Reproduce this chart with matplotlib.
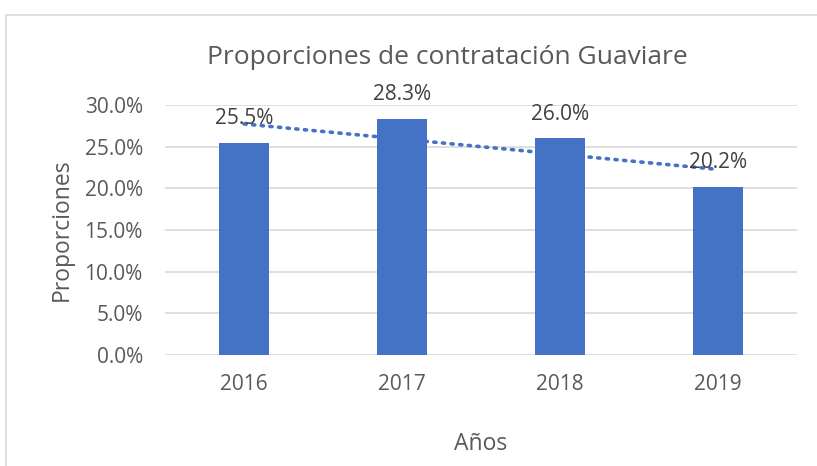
import numpy as np
import matplotlib.pyplot as plt
from matplotlib.patches import Rectangle
from matplotlib.ticker import FuncFormatter

years = ["2016", "2017", "2018", "2019"]
props = [0.255, 0.283, 0.260, 0.202]
yticks = [0.0, 0.05, 0.10, 0.15, 0.20, 0.25, 0.30]

plt.rcParams['font.family'] = ['Open Sans', 'DejaVu Sans']
grey = '#595959'
blue = '#4472C4'

fig = plt.figure(figsize=(8.17, 4.66), dpi=100)
# chart border, like the Excel chart area
fig.patches.append(Rectangle((6 / 817, -0.1), 1.2, 1 - 15 / 466 + 0.1, transform=fig.transFigure,
                             fill=False, edgecolor='#D9D9D9', linewidth=1.2))

ax = fig.add_axes([165 / 817, 1 - 355 / 466, 632 / 817, 250 / 466])
x = np.arange(len(years))
ax.bar(x, props, width=0.32, color=blue, zorder=2)

# linear trendline
k, b = np.polyfit(x + 1, props, 1)
ax.plot(x, k * (x + 1) + b, linestyle=(0, (0.6, 1.8)), color=blue, linewidth=2.6,
        dash_capstyle='round', zorder=3)

for xi, v in zip(x, props):
    ax.text(xi, v + 0.029, f"{v * 100:.1f}%", ha='center', va='center', fontsize=15, color='#404040', zorder=4)

ax.set_xlim(-0.5, 3.5)
ax.set_ylim(0, 0.30)
ax.set_yticks(yticks)
ax.yaxis.set_major_formatter(FuncFormatter(lambda v, p: f"{v * 100:.1f}%"))
ax.set_xticks(x)
ax.set_xticklabels(years)
ax.grid(axis='y', color='#D9D9D9', linewidth=1.2, zorder=0)
ax.set_axisbelow(True)
for s in ax.spines.values():
    s.set_visible(False)
ax.tick_params(length=0, labelsize=15, labelcolor=grey)
ax.tick_params(axis='y', pad=16)
ax.tick_params(axis='x', pad=14)

ax.set_ylabel("Proporciones", fontsize=16.5, color=grey, labelpad=8)
ax.set_xlabel("Años", fontsize=16.5, color=grey, labelpad=26)
fig.text(0.5 * (205 + 690) / 817, 1 - 58 / 466, "Proporciones de contratación Guaviare",
         ha='center', va='center', fontsize=19, color=grey)

fig.savefig("out.png", dpi=100)
